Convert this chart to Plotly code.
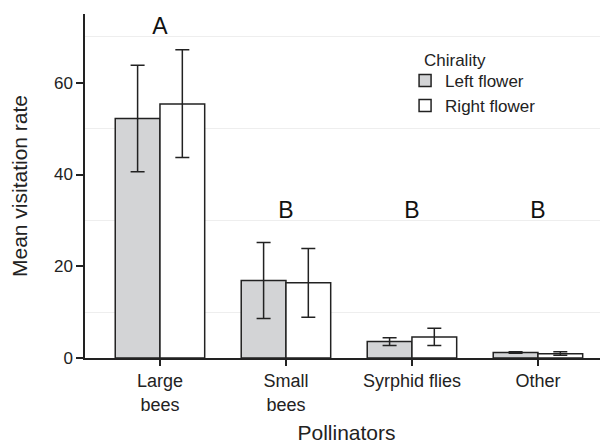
import plotly.graph_objects as go

categories = ["Large<br>bees", "Small<br>bees", "Syrphid flies", "Other"]
left_mean = [52.2, 16.9, 3.6, 1.2]
left_upper = [63.8, 25.2, 4.4, 1.35]
left_lower = [40.6, 8.6, 2.7, 1.05]
right_mean = [55.4, 16.4, 4.6, 0.95]
right_upper = [67.2, 23.9, 6.5, 1.35]
right_lower = [43.7, 8.9, 2.7, 0.6]
letters = ["A", "B", "B", "B"]
letter_y = [72.0, 31.7, 31.7, 31.7]

FONT = "Liberation Sans, Arial, sans-serif"
EDGE = "#222222"
TXT = "#222222"

def err(mean, up, lo):
    return dict(type="data", symmetric=False,
                array=[u - m for u, m in zip(up, mean)],
                arrayminus=[m - l for m, l in zip(mean, lo)],
                color=EDGE, thickness=1.5, width=7)

fig = go.Figure()
fig.add_trace(go.Bar(x=categories, y=left_mean, name="Left flower",
                     marker=dict(color="#d3d4d6", line=dict(color=EDGE, width=1.5)),
                     error_y=err(left_mean, left_upper, left_lower)))
fig.add_trace(go.Bar(x=categories, y=right_mean, name="Right flower",
                     marker=dict(color="#ffffff", line=dict(color=EDGE, width=1.5)),
                     error_y=err(right_mean, right_upper, right_lower)))
fig.add_trace(go.Scatter(x=categories, y=letter_y, mode="text", text=letters,
                         textfont=dict(size=23, color="#111111", family=FONT),
                         showlegend=False, hoverinfo="skip"))

# page body adds an 8px offset; figure is sized so plot area lands like the reference
fig.update_layout(
    width=600, height=440,
    margin=dict(l=77, r=0, t=6, b=90),
    paper_bgcolor="white", plot_bgcolor="white",
    barmode="group", bargap=0.29, bargroupgap=0,
    font=dict(family=FONT, size=17, color=TXT),
    showlegend=True,
    legend=dict(x=0.612, y=0.858, xanchor="left", yanchor="top",
                bgcolor="rgba(0,0,0,0)", font=dict(size=17),
                tracegroupgap=0, itemwidth=30),
    annotations=[dict(text="Chirality", xref="paper", yref="paper",
                      x=0.644, y=0.866, xanchor="left", yanchor="middle",
                      showarrow=False, font=dict(size=17, color=TXT))],
)
fig.update_xaxes(range=[-0.595, 3.556], showline=True, linecolor=EDGE, linewidth=1.5,
                 ticks="outside", ticklen=6, tickcolor=EDGE, tickwidth=1.5,
                 showgrid=False, zeroline=False, automargin=False,
                 tickfont=dict(size=18, color=TXT),
                 title=dict(text="Pollinators", font=dict(size=21, color=TXT), standoff=12))
fig.update_yaxes(range=[0, 75], showline=True, linecolor=EDGE, linewidth=1.5,
                 ticks="outside", ticklen=7, tickcolor=EDGE, tickwidth=1.5,
                 tickvals=[0, 20, 40, 60], showgrid=False, zeroline=False, automargin=False,
                 minor=dict(tickvals=[10, 30, 50, 70], showgrid=True, gridcolor="#eeeeee", gridwidth=1, ticks=""),
                 tickfont=dict(size=17, color=TXT),
                 title=dict(text="Mean visitation rate", font=dict(size=21, color=TXT), standoff=22))

fig.write_html("out.html")
